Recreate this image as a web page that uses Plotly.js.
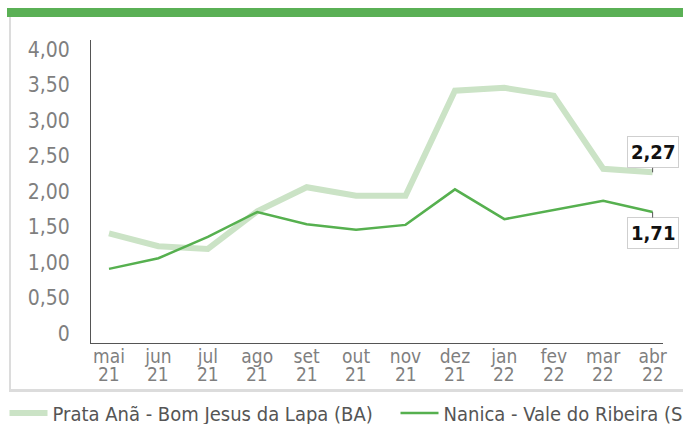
<!DOCTYPE html>
<html><head><meta charset="utf-8">
<script src="https://cdn.plot.ly/plotly-3.0.1.min.js"></script>
<style>
html,body{margin:0;padding:0;width:683px;height:424px;overflow:hidden;background:#fff;}
#bar{position:absolute;left:7px;top:8px;width:1000px;height:9px;background:#5ab055;}
#frame{position:absolute;left:9px;top:17px;width:1000px;height:372px;border-left:2px solid #dcdcdc;border-bottom:3px solid #dcdcdc;}
#chart{position:absolute;left:0;top:0;width:1000px;height:460px;}
</style></head><body>
<div id="bar"></div><div id="frame"></div><div id="chart"></div>
<script>
const months = ['mai','jun','jul','ago','set','out','nov','dez','jan','fev','mar','abr'];
const years = ['21','21','21','21','21','21','21','21','22','22','22','22'];
const prataAna = [1.41,1.23,1.19,1.72,2.06,1.94,1.94,3.42,3.46,3.35,2.32,2.27];
const nanica = [0.91,1.06,1.36,1.71,1.54,1.46,1.53,2.03,1.61,1.74,1.87,1.71];
const seriesNames = ['Prata Anã - Bom Jesus da Lapa (BA)','Nanica - Vale do Ribeira (SP)'];
const yTickVals = [0,0.5,1,1.5,2,2.5,3,3.5,4];
const yTickText = ['0','0,50','1,00','1,50','2,00','2,50','3,00','3,50','4,00'];
const endLabels = ['2,27','1,71'];

const FONT = 'DejaVu Sans Condensed, DejaVu Sans, sans-serif';
const W = 1000, H = 460;
const idx = months.map((m,i)=>i);
const last = months.length-1;

const traces = [
  {x: idx, y: prataAna, name: seriesNames[0], type:'scatter', mode:'lines',
   line:{color:'#cbe3c6', width:6}, hoverinfo:'skip'},
  {x: idx, y: nanica, name: seriesNames[1], type:'scatter', mode:'lines',
   line:{color:'#56b04f', width:2.5}, hoverinfo:'skip'}
];

const annotations = years.map((yr,i)=>({
  x:i, xref:'x', y:0, yref:'paper', yanchor:'top', yshift:-18,
  text:yr, showarrow:false, font:{family:FONT, size:19, color:'#7f7f7f'}
}));
annotations.push({x:last, y:prataAna[last], xref:'x', yref:'y', text:'<b>'+endLabels[0]+'</b>',
  showarrow:true, arrowhead:0, arrowwidth:1, arrowcolor:'#555', ax:0, ay:-20,
  bgcolor:'#fff', bordercolor:'#cfcfcf', borderwidth:1, borderpad:3,
  font:{family:FONT, size:20, color:'#111'}});
annotations.push({x:last, y:nanica[last], xref:'x', yref:'y', text:'<b>'+endLabels[1]+'</b>',
  showarrow:true, arrowhead:0, arrowwidth:1, arrowcolor:'#555', ax:0, ay:21,
  bgcolor:'#fff', bordercolor:'#cfcfcf', borderwidth:1, borderpad:3,
  font:{family:FONT, size:20, color:'#111'}});

const plotW = 663-91, plotH = 343-40;
const layout = {
  width:W, height:H,
  margin:{l:91, r:W-663, t:40, b:H-343},
  paper_bgcolor:'rgba(0,0,0,0)', plot_bgcolor:'rgba(0,0,0,0)',
  font:{family:FONT, color:'#7f7f7f'},
  xaxis:{range:[-0.364, 11.21], tickvals:idx, ticktext:months, showgrid:false, zeroline:false,
    showline:true, linecolor:'#555', linewidth:1, ticks:'', ticklabelstandoff:-4,
    tickfont:{family:FONT, size:19, color:'#7f7f7f'}, fixedrange:true},
  yaxis:{range:[-0.134, 4.134], tickvals:yTickVals, ticktext:yTickText, showgrid:false, zeroline:false,
    showline:true, linecolor:'#555', linewidth:1, ticks:'', ticklabelstandoff:16,
    tickfont:{family:FONT, size:21, color:'#7f7f7f'}, fixedrange:true},
  showlegend:true,
  legend:{orientation:'h', xref:'paper', yref:'paper', x:(786.5-91)/plotW, y:(343-413)/plotH,
    yanchor:'middle', xanchor:'right',
    itemwidth:38, entrywidth:338,
    font:{family:FONT, size:20, color:'#555'}, bgcolor:'rgba(0,0,0,0)'},
  annotations: annotations
};
Plotly.newPlot('chart', traces, layout, {staticPlot:true, displayModeBar:false});
</script>
</body></html>
